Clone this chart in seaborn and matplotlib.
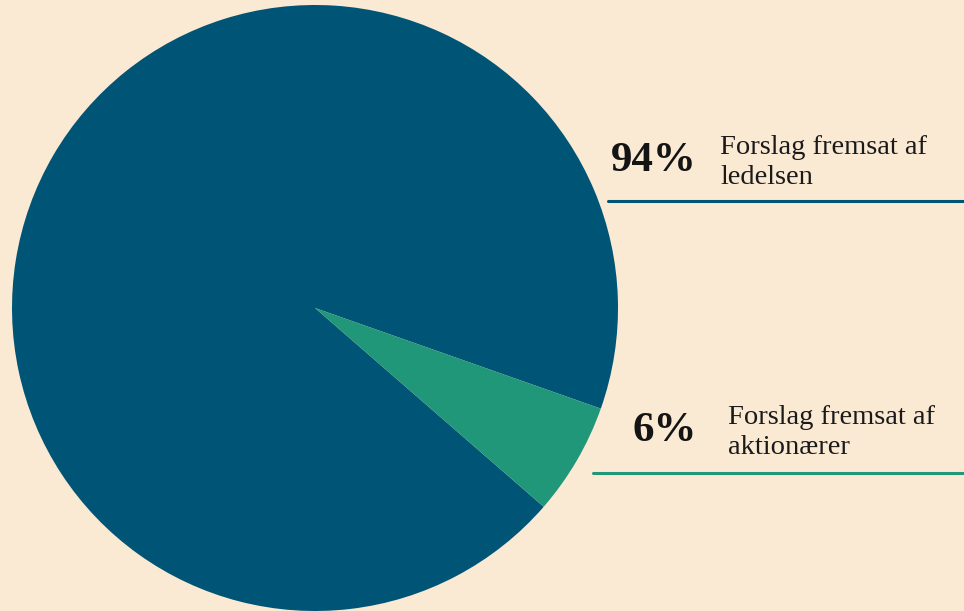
import matplotlib.pyplot as plt
import seaborn as sns
from matplotlib.lines import Line2D

# data
shares = [94, 6]
pct_labels = ["94%", "6%"]
desc_labels = ["Forslag fremsat af\nledelsen", "Forslag fremsat af\naktionærer"]
colors = ["#005475", "#21977a"]

bg = "#fae9d3"
sns.set_theme(style="white", rc={"figure.facecolor": bg, "axes.facecolor": bg})
plt.rcParams['font.family'] = ['Liberation Serif', 'DejaVu Serif']

W, H = 964, 611
fig = plt.figure(figsize=(W / 100, H / 100), dpi=100)

# pie axes: center (315, 308), radius ~303 px
cx, cy, r = 315, 308, 303
ax = fig.add_axes([(cx - r) / W, (H - cy - r) / H, 2 * r / W, 2 * r / H])
ax.pie(shares, colors=colors, startangle=-19.4, counterclock=True,
       wedgeprops={"linewidth": 0})
ax.set_xlim(-1, 1)
ax.set_ylim(-1, 1)
ax.set_aspect("equal")
ax.axis("off")

# (pct right x, pct baseline y, label x, last-line baseline y, line start x, line y)
layout = [(697, 171, 720, 184, 608, 201),
          (697, 441, 728, 454, 593, 473)]
for (px, pb, lx, lb, sx, ly), pct, desc, col in zip(layout, pct_labels, desc_labels, colors):
    fig.text(px / W, 1 - pb / H, pct, ha="right", va="baseline",
             fontsize=31, fontweight="bold", color="#141414")
    fig.text(lx / W, 1 - lb / H, desc, ha="left", va="baseline",
             fontsize=20.5, color="#1a1a1a", linespacing=1.28)
    fig.add_artist(Line2D([sx / W, 1], [1 - ly / H, 1 - ly / H],
                          transform=fig.transFigure, color=col, lw=2.2))

fig.savefig("out.png", dpi=100, facecolor=bg)
